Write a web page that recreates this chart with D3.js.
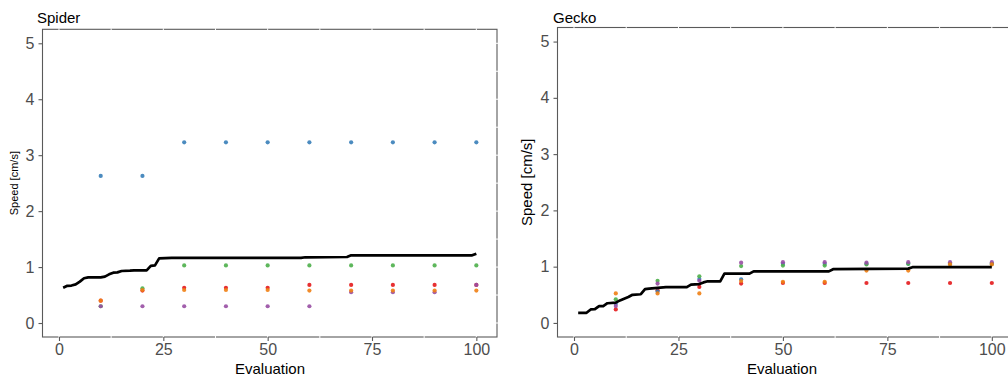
<!DOCTYPE html>
<html><head><meta charset="utf-8">
<script src="https://cdn.jsdelivr.net/npm/d3@7"></script>
<style>
body{margin:0;background:#fff;}
svg{display:block;font-family:"Liberation Sans",Arial,sans-serif;}
</style></head>
<body><svg id="c" width="1008" height="376"></svg>
<script>
// ---- data ----
const evalPoints = [10,20,30,40,50,60,70,80,90,100];
const seriesNames = ["red","blue","green","purple","orange"];
const seriesColors = ["#E41A1C","#377EB8","#4DAF4A","#984EA3","#F07F14"];

// Spider scatter values (per series, at evalPoints)
const spiderRed    = [0.40,0.58,0.63,0.63,0.63,0.68,0.68,0.68,0.68,0.68];
const spiderBlue   = [2.63,2.63,3.23,3.23,3.23,3.23,3.23,3.23,3.23,3.23];
const spiderGreen  = [0.30,0.62,1.03,1.03,1.03,1.03,1.03,1.03,1.03,1.03];
const spiderPurple = [0.30,0.30,0.30,0.30,0.30,0.30,0.55,0.55,0.55,0.68];
const spiderOrange = [0.40,0.59,0.59,0.59,0.59,0.58,0.58,0.58,0.58,0.58];

// Spider best-so-far line
const spiderLineX = [1,2,3,4,5,6,7,10,11,12,13,14,15,17,18,21,22,23,24,27,58,59,69,70,99,100];
const spiderLineY = [0.63,0.665,0.67,0.69,0.74,0.80,0.815,0.815,0.83,0.87,0.90,0.905,0.93,0.935,0.94,0.94,1.02,1.03,1.155,1.165,1.165,1.175,1.18,1.21,1.21,1.24];

// Gecko scatter values
const geckoRed    = [0.24,0.58,0.64,0.70,0.71,0.71,0.71,0.71,0.71,0.71];
const geckoBlue   = [0.34,0.56,0.78,0.775,1.05,1.05,1.05,1.05,1.05,1.05];
const geckoGreen  = [0.42,0.75,0.83,1.01,1.02,1.02,1.04,1.05,1.05,1.05];
const geckoPurple = [0.30,0.70,0.75,1.07,1.08,1.08,1.07,1.08,1.08,1.08];
const geckoOrange = [0.525,0.525,0.525,0.745,0.73,0.73,0.93,0.93,1.04,1.04];

// Gecko best-so-far line
const geckoLineX = [1,3,4,5,6,7,8,10,11,12,13,14,16,17,18,22,27,28,30,31,32,35,36,42,43,61,62,80,81,100];
const geckoLineY = [0.18,0.18,0.24,0.245,0.30,0.30,0.35,0.36,0.40,0.43,0.46,0.50,0.51,0.60,0.61,0.635,0.635,0.68,0.69,0.72,0.74,0.74,0.875,0.875,0.917,0.917,0.955,0.965,0.99,0.99];

const xTicks = [0,25,50,75,100];
const xMinor = [12.5,37.5,62.5,87.5];
const yTicks = [0,1,2,3,4,5];
const yMinor = [0.5,1.5,2.5,3.5,4.5];

const svg = d3.select("#c");

function panel(opts){
  const {x0,x1,y0,y1,title,titleX,series,lineX,lineY,ytitle,ytitleX,ytitleSize,xtitleX} = opts;
  const x = d3.scaleLinear().domain([-3.95,104.95]).range([x0,x1]);
  const y = d3.scaleLinear().domain([-0.25,5.25]).range([y1,y0]);
  const g = svg.append("g");
  const border = "#5a5a5a";
  g.append("rect").attr("x",x0).attr("y",y0).attr("width",x1-x0).attr("height",y1-y0)
    .attr("fill","none").attr("stroke",border).attr("stroke-width",1.1);
  [...xTicks,...xMinor].forEach(v=>{
    g.append("line").attr("x1",x(v)).attr("x2",x(v)).attr("y1",y0-1).attr("y2",y1+1)
      .attr("stroke","#fff").attr("stroke-width",1);
  });
  [...yTicks,...yMinor].forEach(v=>{
    g.append("line").attr("x1",x0+1).attr("x2",x1+1).attr("y1",y(v)).attr("y2",y(v))
      .attr("stroke","#fff").attr("stroke-width",1);
  });
  const ax = g.append("g").attr("transform",`translate(0,${y1})`)
    .call(d3.axisBottom(x).tickValues(xTicks).tickFormat(d3.format("d")).tickSize(4).tickPadding(3));
  const ay = g.append("g").attr("transform",`translate(${x0},0)`)
    .call(d3.axisLeft(y).tickValues(yTicks).tickFormat(d3.format("d")).tickSize(4).tickPadding(4));
  [ax,ay].forEach(a=>{
    a.select(".domain").remove();
    a.selectAll(".tick line").attr("stroke",border).attr("stroke-width",1.1);
    a.selectAll(".tick text").attr("fill","#4d4d4d").attr("font-size","16px")
      .attr("font-family","'Liberation Sans',Arial,sans-serif");
  });
  series.forEach((vals,i)=>{
    g.append("g").selectAll("circle").data(vals).join("circle")
      .attr("cx",(d,j)=>x(evalPoints[j])).attr("cy",d=>y(d)).attr("r",2.1)
      .attr("fill",seriesColors[i]).attr("fill-opacity",0.9);
  });
  const line = d3.line().x(d=>x(d[0])).y(d=>y(d[1]));
  g.append("path").datum(lineX.map((v,i)=>[v,lineY[i]])).attr("d",line)
    .attr("fill","none").attr("stroke","#000").attr("stroke-width",2.7).attr("stroke-linejoin","round");
  g.append("text").attr("x",titleX).attr("y",23).attr("font-size","15px").attr("fill","#000").text(title);
  g.append("text").attr("x",xtitleX).attr("y",374).attr("text-anchor","middle")
    .attr("font-size","15px").attr("fill","#000").text("Evaluation");
  g.append("text").attr("transform",`translate(${ytitleX},${(y0+y1)/2}) rotate(-90)`)
    .attr("text-anchor","middle").attr("font-size",ytitleSize).attr("fill","#000").text(ytitle);
}

panel({x0:42.5,x1:497,y0:29.3,y1:337,title:"Spider",titleX:37,xtitleX:270,
  series:[spiderRed,spiderBlue,spiderGreen,spiderPurple,spiderOrange],
  lineX:spiderLineX,lineY:spiderLineY,ytitle:"Speed [cm/s]",ytitleX:18,ytitleSize:"11px"});
panel({x0:557.5,x1:1012.5,y0:27.5,y1:337,title:"Gecko",titleX:553,xtitleX:782,
  series:[geckoRed,geckoBlue,geckoGreen,geckoPurple,geckoOrange],
  lineX:geckoLineX,lineY:geckoLineY,ytitle:"Speed [cm/s]",ytitleX:532,ytitleSize:"15px"});
</script></body></html>
